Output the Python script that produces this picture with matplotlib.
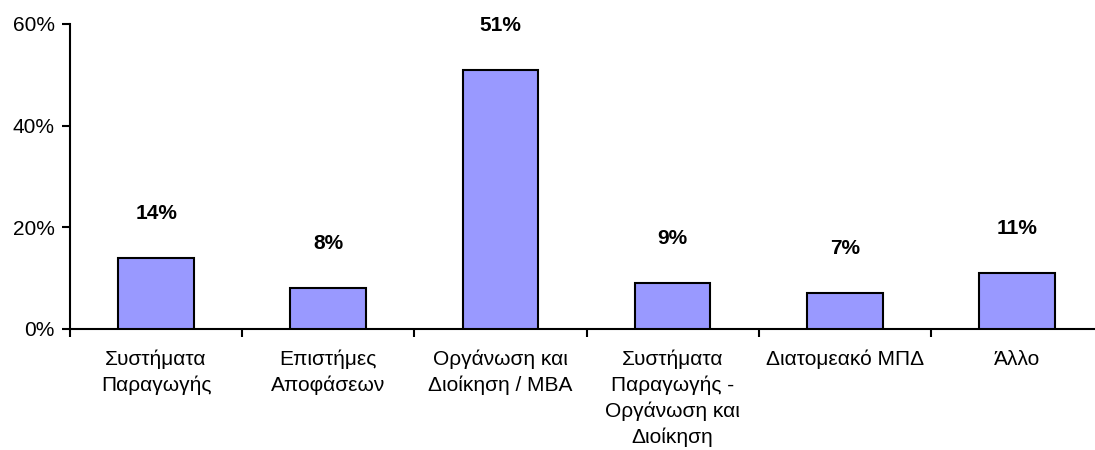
import matplotlib.pyplot as plt
import numpy as np

# datos del grafico
categorias = ["Συστήματα\nΠαραγωγής", "Επιστήμες\nΑποφάσεων", "Οργάνωση και\nΔιοίκηση / MBA",
              "Συστήματα\nΠαραγωγής -\nΟργάνωση και\nΔιοίκηση", "Διατομεακό ΜΠΔ", "Άλλο"]
valores = [14, 8, 51, 9, 7, 11]
etiquetas_y = ["0%", "20%", "40%", "60%"]

plt.rcParams['font.family'] = ['Liberation Sans', 'DejaVu Sans']
tam = 15

fig = plt.figure(figsize=(10.95, 4.5), dpi=100)
ax = fig.add_axes([70 / 1095, 121 / 450, 1033 / 1095, 305 / 450])

x = np.arange(len(categorias))
ax.bar(x, valores, width=0.44, color="#9999FF", edgecolor="black", linewidth=1.5, zorder=3)

# etiquetas de porcentaje encima de cada barra
for xi, v in zip(x, valores):
    ax.annotate(f"{v}%", (xi, v), xytext=(0, 32), textcoords="offset points",
                ha="center", va="center", fontsize=tam, fontweight="bold")

ax.set_xlim(-0.5, len(categorias) - 0.5)
ax.set_ylim(0, 60)
ax.set_yticks([0, 20, 40, 60])
ax.set_yticklabels(etiquetas_y, fontsize=tam)

# ticks en los limites de las categorias, texto en el centro
ax.set_xticks(np.arange(len(categorias) + 1) - 0.5)
ax.set_xticklabels([])
ax.set_xticks(x, minor=True)
ax.set_xticklabels(categorias, minor=True, fontsize=tam, va="top", linespacing=1.42)
ax.tick_params(axis="x", which="minor", length=0, pad=15)
ax.tick_params(axis="x", which="major", length=6, width=1.5, direction="out")
ax.tick_params(axis="y", length=6, width=1.5, direction="out", pad=5)

for lado in ["top", "right"]:
    ax.spines[lado].set_visible(False)
for lado in ["left", "bottom"]:
    ax.spines[lado].set_linewidth(1.5)

plt.savefig("out.png", dpi=100)
plt.close()
